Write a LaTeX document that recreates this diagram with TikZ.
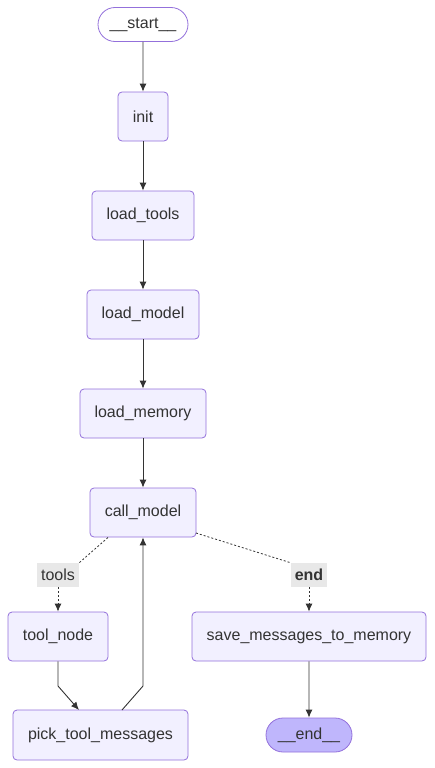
\documentclass[tikz,border=0pt]{standalone}
\usepackage{fontspec}
\setmainfont{Liberation Sans}
\usetikzlibrary{arrows.meta,shapes.misc}
\definecolor{nodefill}{HTML}{F2F0FF}
\definecolor{nodeline}{HTML}{9370DB}
\definecolor{edgecol}{HTML}{333333}
\definecolor{endfill}{HTML}{BFB6FC}
\definecolor{lblbg}{HTML}{E8E8E8}
\begin{document}
\begin{tikzpicture}[x=1pt,y=-1pt,
  every node/.style={font=\fontsize{16}{19}\selectfont, text=edgecol},
  stepbox/.style={draw=nodeline, fill=nodefill, rounded corners=4pt, line width=0.8pt, minimum height=49pt, inner sep=0pt},
  term/.style={draw=nodeline, line width=0.8pt, rounded rectangle, minimum height=34pt, inner sep=0pt},
  lbl/.style={fill=lblbg, inner sep=0pt, minimum height=24pt},
  flow/.style={draw=edgecol, line width=0.9pt, -{Latex[length=8pt,width=7pt]}},
  cond/.style={draw=edgecol, line width=0.8pt, dash pattern=on 2pt off 2pt},
]
\useasboundingbox (0,0) rectangle (435,768);

% nodes
\node[term, fill=white, minimum width=90pt] (start) at (143,24.5) {\_\_start\_\_};
\node[stepbox, minimum width=50pt] (init) at (143,116.5) {init};
\node[stepbox, minimum width=102pt] (tools) at (143,215.5) {load\_tools};
\node[stepbox, minimum width=112pt] (model) at (143,314.5) {load\_model};
\node[stepbox, minimum width=126pt] (memory) at (143,413.5) {load\_memory};
\node[stepbox, minimum width=106pt] (call) at (143,512.5) {call\_model};
\node[stepbox, minimum width=100pt] (toolnode) at (58,636.5) {tool\_node};
\node[stepbox, minimum width=234pt] (save) at (309,636.5) {save\_messages\_to\_memory};
\node[stepbox, minimum width=175pt, minimum height=50pt] (pick) at (100.5,735) {pick\_tool\_messages};
\node[term, fill=endfill, minimum width=86pt] (end) at (309,735) {\_\_end\_\_};

% edge labels
\node[lbl, minimum width=42pt] (ltools) at (58,575) {tools};
\node[lbl, minimum width=36pt, font=\fontsize{16}{19}\selectfont\bfseries] (lend) at (309,575) {end};

% main chain
\draw[flow] (start) -- (init);
\draw[flow] (init) -- (tools);
\draw[flow] (tools) -- (model);
\draw[flow] (model) -- (memory);
\draw[flow] (memory) -- (call);

% conditional branches
\coordinate (cl) at (108,537.5);
\coordinate (cr) at (196,533);
\draw[cond] (cl) -- (ltools.north east);
\draw[cond, -{Latex[length=8pt,width=7pt]}] (ltools) -- (toolnode);
\draw[cond] (cr) -- (lend.north west);
\draw[cond, -{Latex[length=8pt,width=7pt]}] (lend) -- (save);

% tool loop
\coordinate (tbend) at (58,686);
\coordinate (pin) at (79,710);
\coordinate (pout) at (122,710);
\coordinate (cbend) at (143,686);
\draw[flow] (toolnode.south) -- (tbend) -- (pin);
\draw[flow] (pout) -- (cbend) -- (call.south);

% finish
\draw[flow] (save) -- (end);
\end{tikzpicture}
\end{document}
